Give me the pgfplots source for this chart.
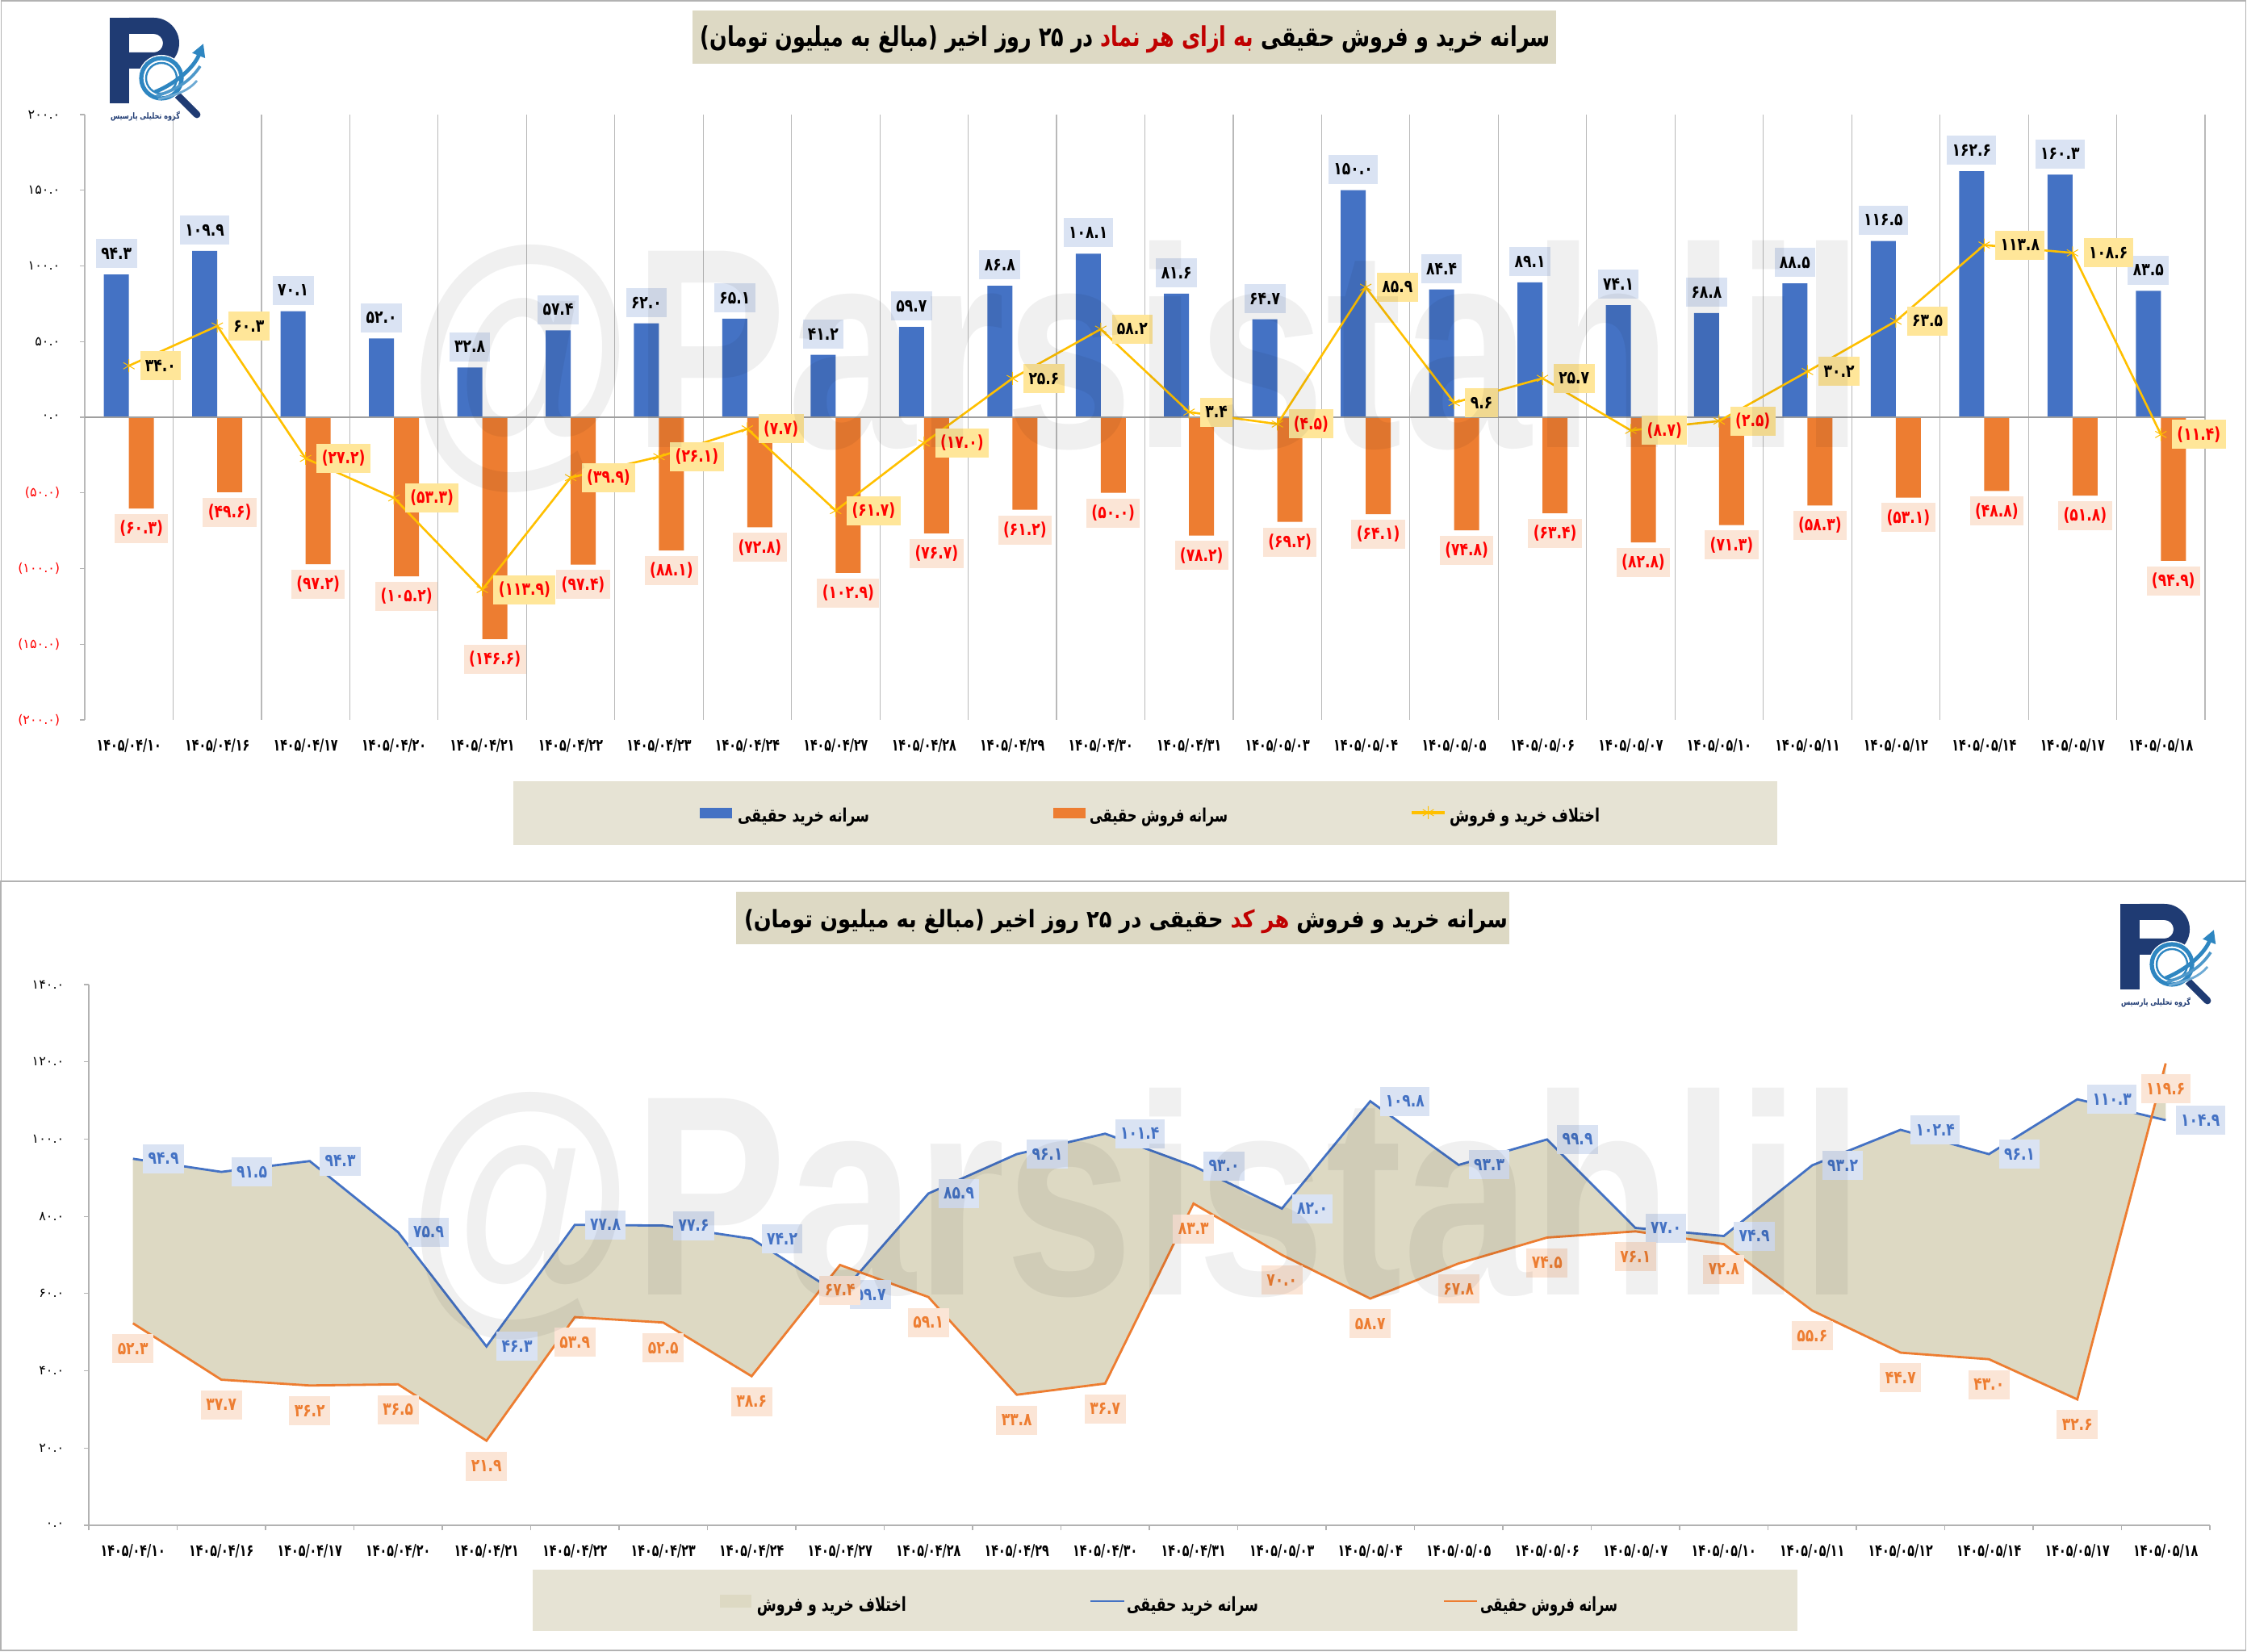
\documentclass[border=0pt]{standalone}
\usepackage{pgfplots}
\pgfplotsset{compat=1.18}
\usepackage{pgfplotstable}
\usetikzlibrary{arrows.meta}
\usepackage{graphicx}
\usepackage{fontspec}
\setmainfont{Liberation Sans}
\newfontfamily\fa[Script=Arabic]{DejaVu Sans}
\newfontfamily\la{DejaVu Sans}
\TeXXeTstate=1

\definecolor{cblue}{HTML}{4472C4}
\definecolor{corange}{HTML}{ED7D31}
\definecolor{cgold}{HTML}{FFC000}
\definecolor{cbluel}{HTML}{DAE3F3}
\definecolor{corangel}{HTML}{FBE5D6}
\definecolor{cyell}{HTML}{FFE699}
\definecolor{ctan}{HTML}{DDD9C3}
\definecolor{titlebox}{HTML}{DDD9C4}
\definecolor{legbox}{HTML}{E6E3D4}
\definecolor{tred}{HTML}{C00000}
\definecolor{logonavy}{HTML}{1F3B73}
\definecolor{logoblue}{HTML}{2E86C1}

\newcommand\dl[1]{{\fa\bfseries\fontsize{5.5}{6}\selectfont\scalebox{0.78}[1]{#1}}}
\newcommand\xl[1]{{\fa\bfseries\fontsize{5.1}{6}\selectfont\scalebox{0.70}[1]{#1}}}
\newcommand\yfont{\fa\fontsize{4}{5}\selectfont}
\newcommand\lp{{\la\bfseries(}}
\newcommand\rp{{\la\bfseries)}}

\pgfplotstableread{
x buy sell diff bl sl dl
0 94.3 -60.3 34.0 ۹۴.۳ ۶۰.۳ ۳۴.۰
1 109.9 -49.6 60.3 ۱۰۹.۹ ۴۹.۶ ۶۰.۳
2 70.1 -97.2 -27.2 ۷۰.۱ ۹۷.۲ ۲۷.۲
3 52.0 -105.2 -53.3 ۵۲.۰ ۱۰۵.۲ ۵۳.۳
4 32.8 -146.6 -113.9 ۳۲.۸ ۱۴۶.۶ ۱۱۳.۹
5 57.4 -97.4 -39.9 ۵۷.۴ ۹۷.۴ ۳۹.۹
6 62.0 -88.1 -26.1 ۶۲.۰ ۸۸.۱ ۲۶.۱
7 65.1 -72.8 -7.7 ۶۵.۱ ۷۲.۸ ۷.۷
8 41.2 -102.9 -61.7 ۴۱.۲ ۱۰۲.۹ ۶۱.۷
9 59.7 -76.7 -17.0 ۵۹.۷ ۷۶.۷ ۱۷.۰
10 86.8 -61.2 25.6 ۸۶.۸ ۶۱.۲ ۲۵.۶
11 108.1 -50.0 58.2 ۱۰۸.۱ ۵۰.۰ ۵۸.۲
12 81.6 -78.2 3.4 ۸۱.۶ ۷۸.۲ ۳.۴
13 64.7 -69.2 -4.5 ۶۴.۷ ۶۹.۲ ۴.۵
14 150.0 -64.1 85.9 ۱۵۰.۰ ۶۴.۱ ۸۵.۹
15 84.4 -74.8 9.6 ۸۴.۴ ۷۴.۸ ۹.۶
16 89.1 -63.4 25.7 ۸۹.۱ ۶۳.۴ ۲۵.۷
17 74.1 -82.8 -8.7 ۷۴.۱ ۸۲.۸ ۸.۷
18 68.8 -71.3 -2.5 ۶۸.۸ ۷۱.۳ ۲.۵
19 88.5 -58.3 30.2 ۸۸.۵ ۵۸.۳ ۳۰.۲
20 116.5 -53.1 63.5 ۱۱۶.۵ ۵۳.۱ ۶۳.۵
21 162.6 -48.8 113.8 ۱۶۲.۶ ۴۸.۸ ۱۱۳.۸
22 160.3 -51.8 108.6 ۱۶۰.۳ ۵۱.۸ ۱۰۸.۶
23 83.5 -94.9 -11.4 ۸۳.۵ ۹۴.۹ ۱۱.۴
}\topdata

\pgfplotstableread{
x buy sell bl sl
0 94.9 52.3 ۹۴.۹ ۵۲.۳
1 91.5 37.7 ۹۱.۵ ۳۷.۷
2 94.3 36.2 ۹۴.۳ ۳۶.۲
3 75.9 36.5 ۷۵.۹ ۳۶.۵
4 46.3 21.9 ۴۶.۳ ۲۱.۹
5 77.8 53.9 ۷۷.۸ ۵۳.۹
6 77.6 52.5 ۷۷.۶ ۵۲.۵
7 74.2 38.6 ۷۴.۲ ۳۸.۶
8 59.7 67.4 ۵۹.۷ ۶۷.۴
9 85.9 59.1 ۸۵.۹ ۵۹.۱
10 96.1 33.8 ۹۶.۱ ۳۳.۸
11 101.4 36.7 ۱۰۱.۴ ۳۶.۷
12 93.0 83.3 ۹۳.۰ ۸۳.۳
13 82.0 70.0 ۸۲.۰ ۷۰.۰
14 109.8 58.7 ۱۰۹.۸ ۵۸.۷
15 93.3 67.8 ۹۳.۳ ۶۷.۸
16 99.9 74.5 ۹۹.۹ ۷۴.۵
17 77.0 76.1 ۷۷.۰ ۷۶.۱
18 74.9 72.8 ۷۴.۹ ۷۲.۸
19 93.2 55.6 ۹۳.۲ ۵۵.۶
20 102.4 44.7 ۱۰۲.۴ ۴۴.۷
21 96.1 43.0 ۹۶.۱ ۴۳.۰
22 110.3 32.6 ۱۱۰.۳ ۳۲.۶
23 104.9 119.6 ۱۰۴.۹ ۱۱۹.۶
}\botdata

% outline of the area between the two per-code series (buy forward, sell backward)
\pgfplotstableread{
x y
0 94.9
1 91.5
2 94.3
3 75.9
4 46.3
5 77.8
6 77.6
7 74.2
8 59.7
9 85.9
10 96.1
11 101.4
12 93.0
13 82.0
14 109.8
15 93.3
16 99.9
17 77.0
18 74.9
19 93.2
20 102.4
21 96.1
22 110.3
23 104.9
23 119.6
22 32.6
21 43.0
20 44.7
19 55.6
18 72.8
17 76.1
16 74.5
15 67.8
14 58.7
13 70.0
12 83.3
11 36.7
10 33.8
9 59.1
8 67.4
7 38.6
6 52.5
5 53.9
4 21.9
3 36.5
2 36.2
1 37.7
0 52.3
}\areadata

\tikzset{lblbox/.style={inner xsep=1.6pt, inner ysep=0pt, minimum height=9pt}}
\pgfplotsset{
  mydates/.style={xtick={0,...,23},
    xticklabels={\xl{۱۴۰۵/۰۴/۱۰},\xl{۱۴۰۵/۰۴/۱۶},\xl{۱۴۰۵/۰۴/۱۷},\xl{۱۴۰۵/۰۴/۲۰},\xl{۱۴۰۵/۰۴/۲۱},\xl{۱۴۰۵/۰۴/۲۲},\xl{۱۴۰۵/۰۴/۲۳},\xl{۱۴۰۵/۰۴/۲۴},\xl{۱۴۰۵/۰۴/۲۷},\xl{۱۴۰۵/۰۴/۲۸},\xl{۱۴۰۵/۰۴/۲۹},\xl{۱۴۰۵/۰۴/۳۰},\xl{۱۴۰۵/۰۴/۳۱},\xl{۱۴۰۵/۰۵/۰۳},\xl{۱۴۰۵/۰۵/۰۴},\xl{۱۴۰۵/۰۵/۰۵},\xl{۱۴۰۵/۰۵/۰۶},\xl{۱۴۰۵/۰۵/۰۷},\xl{۱۴۰۵/۰۵/۱۰},\xl{۱۴۰۵/۰۵/۱۱},\xl{۱۴۰۵/۰۵/۱۲},\xl{۱۴۰۵/۰۵/۱۴},\xl{۱۴۰۵/۰۵/۱۷},\xl{۱۴۰۵/۰۵/۱۸}}}
}

\newcommand\drawlogo{%
  \fill[logonavy] (0,0) rectangle (24,-106);
  \fill[logonavy] (24,0) -- (54.5,0) arc[start angle=90,end angle=-90,radius=31.5] -- (24,-63) -- (24,-43) -- (54.5,-43) arc[start angle=-90,end angle=90,radius=11.5] -- (24,-20) -- cycle;
  \draw[logonavy, line width=2.2pt, line cap=round] (84,-96) -- (108,-120);
  \fill[white] (64,-75) circle[radius=29];
  \draw[logoblue, line width=1.3pt] (64,-75) circle[radius=25];
  \draw[logoblue, line width=0.6pt] (64,-75) circle[radius=19];
  \draw[logoblue, line width=1.2pt, -{Triangle[length=4pt,width=4pt]}] (56,-92) .. controls (85,-80) and (105,-60) .. (116,-32);
  \draw[logoblue!85, line width=0.9pt] (58,-97) .. controls (85,-88) and (100,-78) .. (112,-60);
  \draw[logoblue!70, line width=0.7pt] (60,-101) .. controls (85,-95) and (98,-90) .. (108,-78);
  \node[logonavy, inner sep=0] at (44,-122) {\resizebox*{21.5pt}{3pt}{\fa\bfseries\beginR گروه تحلیلی پارسیس\endR}};
}

\begin{document}
\begin{tikzpicture}
\useasboundingbox (0,0) rectangle (696pt,511.5pt);
\fill[white] (0,0) rectangle (696pt,511.5pt);
\draw[gray!60, line width=0.4pt] (0.4pt,238.5pt) rectangle (695.6pt,511.3pt);
\draw[gray!60, line width=0.4pt] (0.2pt,0.2pt) rectangle (695.6pt,238.5pt);

% ---------- top chart ----------
\begin{axis}[
  at={(26.25pt,288.5pt)}, anchor=south west, scale only axis,
  width=656.75pt, height=187.5pt,
  xmin=-0.5, xmax=23.5, ymin=-200, ymax=200, clip=false,
  axis line style={draw=none},
  mydates,
  major x tick style={draw=none},
  minor xtick={-0.5,0.5,...,23.5},
  minor x tick style={draw=none},
  xminorgrids=true,
  minor x grid style={gray!55, line width=0.3pt},
  xticklabel style={anchor=north, inner sep=0pt, yshift=-4.25pt},
  ytick={-200,-150,-100,-50,0,50,100,150,200},
  yticklabels={\textcolor{red}{(۲۰۰.۰)},\textcolor{red}{(۱۵۰.۰)},\textcolor{red}{(۱۰۰.۰)},\textcolor{red}{(۵۰.۰)},۰.۰,۵۰.۰,۱۰۰.۰,۱۵۰.۰,۲۰۰.۰},
  yticklabel style={font=\yfont, anchor=east, inner sep=0pt, xshift=-6pt},
  ytick pos=left, tick align=outside, major tick length=1.5pt,
  y tick style={gray!60, line width=0.3pt},
  point meta=explicit symbolic,
]
\addplot[ybar, bar width=7.75pt, bar shift=-3.875pt, fill=cblue, draw=none,
  nodes near coords={\dl{\pgfplotspointmeta}},
  every node near coord/.append style={lblbox, fill=cbluel, anchor=south, yshift=1.75pt, xshift=-3.875pt}]
  table[x=x, y=buy, meta=bl] {\topdata};
\addplot[ybar, bar width=7.75pt, bar shift=3.875pt, fill=corange, draw=none,
  nodes near coords={\textcolor{red}{\dl{(\pgfplotspointmeta)}}},
  every node near coord/.append style={lblbox, fill=corangel, anchor=north, yshift=-1.5pt, xshift=3.875pt}]
  table[x=x, y=sell, meta=sl] {\topdata};
\draw[gray!75, line width=0.5pt] (axis cs:-0.5,0) -- (axis cs:23.5,0);
\addplot[cgold, line width=0.65pt, mark=asterisk, mark size=2pt,
  mark options={line width=0.25pt, solid}]
  table[x=x, y=diff] {\topdata};
\addplot[draw=none, mark=none, restrict y to domain=0:1000,
  nodes near coords={\dl{\pgfplotspointmeta}},
  every node near coord/.append style={lblbox, fill=cyell, anchor=west, xshift=3.25pt}]
  table[x=x, y=diff, meta=dl] {\topdata};
\addplot[draw=none, mark=none, restrict y to domain=-1000:0,
  nodes near coords={\textcolor{red}{\dl{(\pgfplotspointmeta)}}},
  every node near coord/.append style={lblbox, fill=cyell, anchor=west, xshift=3.25pt}]
  table[x=x, y=diff, meta=dl] {\topdata};
\end{axis}

% ---------- bottom chart ----------
\begin{axis}[
  at={(27.5pt,39pt)}, anchor=south west, scale only axis,
  width=657pt, height=167.5pt,
  xmin=-0.5, xmax=23.5, ymin=0, ymax=140, clip=false,
  axis line style={draw=none},
  mydates,
  xtick pos=left, ytick pos=left,
  major x tick style={draw=none},
  minor xtick={-0.5,0.5,...,23.5},
  minor x tick style={gray!60, line width=0.3pt},
  minor tick length=1.5pt,
  xticklabel style={anchor=north, inner sep=0pt, yshift=-4.25pt},
  ytick={0,20,...,140},
  yticklabels={۰.۰,۲۰.۰,۴۰.۰,۶۰.۰,۸۰.۰,۱۰۰.۰,۱۲۰.۰,۱۴۰.۰},
  yticklabel style={font=\yfont, anchor=east, inner sep=0pt, xshift=-6pt},
  tick align=outside, major tick length=1.5pt,
  y tick style={gray!60, line width=0.3pt},
]
\draw[gray!60, line width=0.4pt] (axis cs:-0.5,140) -- (axis cs:-0.5,0) -- (axis cs:23.5,0);
\addplot[fill=ctan, draw=none, mark=none] table[x=x, y=y] {\areadata};
\addplot[cblue, line width=0.7pt, mark=none, point meta=explicit symbolic,
  nodes near coords={\dl{\pgfplotspointmeta}},
  every node near coord/.append style={lblbox, fill=cbluel, anchor=west, xshift=2.75pt}]
  table[x=x, y=buy, meta=bl] {\botdata};
\addplot[corange, line width=0.7pt, mark=none, point meta=explicit symbolic,
  nodes near coords={\dl{\pgfplotspointmeta}},
  every node near coord/.append style={lblbox, fill=corangel, anchor=north, yshift=-3pt}]
  table[x=x, y=sell, meta=sl] {\botdata};
\end{axis}

% ---------- titles ----------
\fill[titlebox] (214.5pt,491.75pt) rectangle (482pt,508.25pt);
\node[inner sep=0] at (348.6pt,499.25pt) {\resizebox*{263.25pt}{8.5pt}{\fa\bfseries \lp\beginR مبالغ به میلیون تومان\endR\rp{} \beginR در ۲۵ روز اخیر\endR\ \textcolor{tred}{\beginR به ازای هر نماد\endR} \beginR سرانه خرید و فروش حقیقی\endR}};
\fill[titlebox] (228pt,219pt) rectangle (467.5pt,235.25pt);
\node[inner sep=0] at (348.75pt,226pt) {\resizebox*{236.5pt}{7.5pt}{\fa\bfseries \lp\beginR مبالغ به میلیون تومان\endR\rp{} \beginR حقیقی در ۲۵ روز اخیر\endR\ \textcolor{tred}{\beginR هر کد\endR} \beginR سرانه خرید و فروش\endR}};

% ---------- legends ----------
\fill[legbox] (159pt,249.75pt) rectangle (550.5pt,269.5pt);
\fill[cblue] (216.75pt,258pt) rectangle (226.75pt,261.25pt);
\node[inner sep=0] at (248.9pt,258.4pt) {\resizebox*{40.75pt}{5.75pt}{\fa\bfseries\beginR سرانه خرید حقیقی\endR}};
\fill[corange] (326.25pt,258pt) rectangle (336.25pt,261.25pt);
\node[inner sep=0] at (358.9pt,258.4pt) {\resizebox*{42.75pt}{5.75pt}{\fa\bfseries\beginR سرانه فروش حقیقی\endR}};
\draw[cgold, line width=0.9pt] (437.25pt,259.75pt) -- (447.5pt,259.75pt);
\draw[cgold, line width=0.25pt] (442.4pt,257.75pt) -- (442.4pt,261.75pt)
  (440.7pt,258.75pt) -- (444.1pt,260.75pt) (440.7pt,260.75pt) -- (444.1pt,258.75pt);
\node[inner sep=0] at (472.25pt,258.4pt) {\resizebox*{46.5pt}{5.75pt}{\fa\bfseries\beginR اختلاف خرید و فروش\endR}};

\fill[legbox] (165pt,6.25pt) rectangle (556.75pt,25.25pt);
\fill[ctan] (223pt,13.5pt) rectangle (232.75pt,17.5pt);
\node[inner sep=0] at (257.6pt,14pt) {\resizebox*{46.25pt}{6pt}{\fa\bfseries\beginR اختلاف خرید و فروش\endR}};
\draw[cblue, line width=0.7pt] (337.75pt,15.5pt) -- (348.25pt,15.5pt);
\node[inner sep=0] at (369.4pt,14pt) {\resizebox*{40.75pt}{6pt}{\fa\bfseries\beginR سرانه خرید حقیقی\endR}};
\draw[corange, line width=0.7pt] (447.25pt,15.5pt) -- (457.5pt,15.5pt);
\node[inner sep=0] at (479.75pt,14pt) {\resizebox*{42.5pt}{6pt}{\fa\bfseries\beginR سرانه فروش حقیقی\endR}};

% ---------- logos ----------
\begin{scope}[shift={(34pt,506pt)}, x=0.25pt, y=0.25pt]\drawlogo\end{scope}
\begin{scope}[shift={(656.75pt,231.5pt)}, x=0.25pt, y=0.25pt]\drawlogo\end{scope}

% ---------- watermarks ----------
\node[inner sep=0, opacity=0.06] at (352pt,398pt) {\resizebox*{451pt}{78pt}{\bfseries @Parsistahlil}};
\node[inner sep=0, opacity=0.06] at (352pt,135.4pt) {\resizebox*{451pt}{78pt}{\bfseries @Parsistahlil}};
\end{tikzpicture}
\end{document}
